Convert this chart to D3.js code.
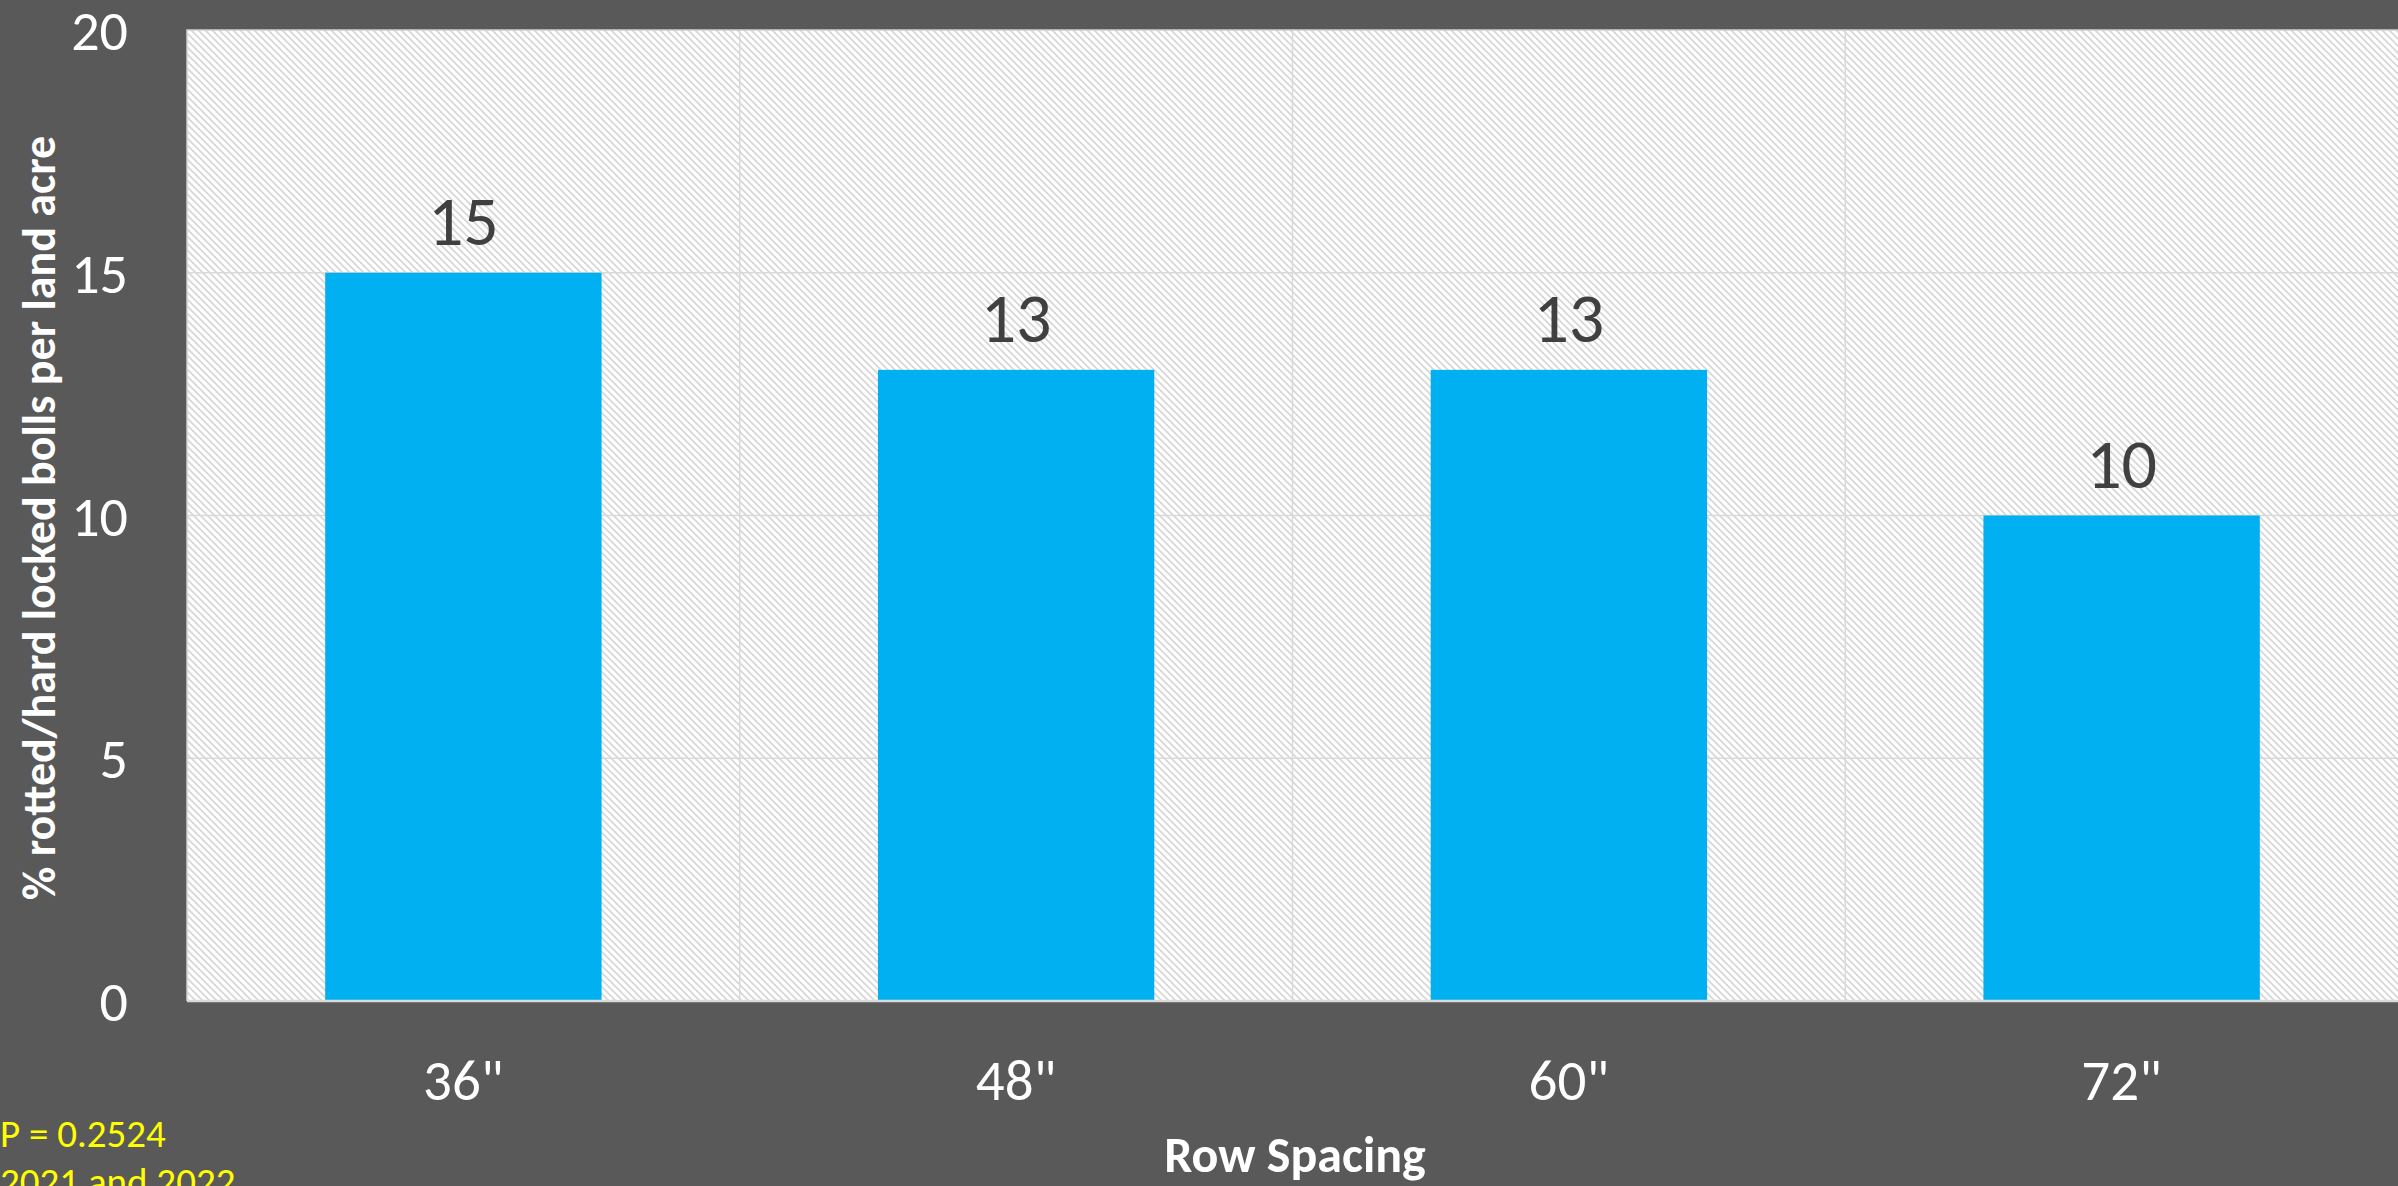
<!DOCTYPE html>
<html>
<head>
<meta charset="utf-8">
<script src="https://cdn.jsdelivr.net/npm/d3@7"></script>
<style>
  html, body { margin: 0; padding: 0; background: #595959; overflow: hidden; }
  svg { display: block; }
  text { font-family: Carlito, Calibri, Lato, sans-serif; }
</style>
</head>
<body>
<svg id="chart" width="2398" height="1186"></svg>
<script>
// ---- data ----
const categories = ['36"', '48"', '60"', '72"'];
const values = [15, 13, 13, 10];
const yTicks = [0, 5, 10, 15, 20];
const yTitle = "% rotted/hard locked bolls per land acre";
const xTitle = "Row Spacing";
const notes = ["P = 0.2524", "2021 and 2022"];

// ---- layout ----
const W = 2398, H = 1186;
const plotL = 187, plotR = 2398, plotT = 30, plotB = 1001;

const svg = d3.select("#chart");

svg.append("rect").attr("width", W).attr("height", H).attr("fill", "#595959");

// hatch pattern
const defs = svg.append("defs");
const pat = defs.append("pattern")
  .attr("id", "hatch")
  .attr("patternUnits", "userSpaceOnUse")
  .attr("width", 7).attr("height", 7);
pat.append("rect").attr("width", 7).attr("height", 7).attr("fill", "#ffffff");
pat.append("path")
  .attr("d", "M-1,-1 L8,8 M-1,6 L1,8 M6,-1 L8,1")
  .attr("stroke", "#d6d6d6")
  .attr("stroke-width", 1.6);

const x = d3.scaleBand().domain(categories).range([plotL, plotR]).padding(0);
const y = d3.scaleLinear().domain([0, 20]).range([plotB, plotT]);

// plot area
svg.append("rect")
  .attr("x", plotL).attr("y", plotT)
  .attr("width", plotR - plotL).attr("height", plotB - plotT)
  .attr("fill", "url(#hatch)");

// horizontal gridlines
svg.append("g").selectAll("line")
  .data(yTicks.filter(d => d > 0 && d < 20))
  .join("line")
  .attr("x1", plotL).attr("x2", plotR)
  .attr("y1", d => y(d)).attr("y2", d => y(d))
  .attr("stroke", "#d9d9d9").attr("stroke-width", 1.5);

// vertical gridlines at category boundaries
svg.append("g").selectAll("line")
  .data(categories.slice(1))
  .join("line")
  .attr("x1", d => x(d)).attr("x2", d => x(d))
  .attr("y1", plotT).attr("y2", plotB)
  .attr("stroke", "#d9d9d9").attr("stroke-width", 1.5);

// border (top, left)
svg.append("path")
  .attr("d", `M${plotL},${plotB} V${plotT} H${plotR}`)
  .attr("fill", "none").attr("stroke", "#cfcfcf").attr("stroke-width", 1.5);

// bars
const barW = x.bandwidth() * 0.5;
svg.append("g").selectAll("rect")
  .data(values)
  .join("rect")
  .attr("x", (d, i) => x(categories[i]) + x.bandwidth() / 2 - barW / 2)
  .attr("y", d => y(d))
  .attr("width", barW)
  .attr("height", d => y(0) - y(d))
  .attr("fill", "#00b0f0");

// baseline
svg.append("line")
  .attr("x1", plotL).attr("x2", plotR)
  .attr("y1", y(0)).attr("y2", y(0))
  .attr("stroke", "#d9d9d9").attr("stroke-width", 2.5);

// bar labels
svg.append("g").selectAll("text")
  .data(values)
  .join("text")
  .attr("x", (d, i) => x(categories[i]) + x.bandwidth() / 2)
  .attr("y", d => y(d) - 28)
  .attr("text-anchor", "middle")
  .attr("font-size", 70)
  .attr("fill", "#404040")
  .text(d => d);

// y tick labels
svg.append("g").selectAll("text")
  .data(yTicks)
  .join("text")
  .attr("x", 128)
  .attr("y", d => y(d))
  .attr("dy", "0.36em")
  .attr("text-anchor", "end")
  .attr("font-size", 56)
  .attr("fill", "#ffffff")
  .text(d => d);

// x tick labels
svg.append("g").selectAll("text")
  .data(categories)
  .join("text")
  .attr("x", d => x(d) + x.bandwidth() / 2)
  .attr("y", 1100)
  .attr("text-anchor", "middle")
  .attr("font-size", 57)
  .attr("fill", "#ffffff")
  .text(d => d);

// axis titles
svg.append("text")
  .attr("x", 1295).attr("y", 1172)
  .attr("text-anchor", "middle")
  .attr("font-size", 50).attr("font-weight", "bold")
  .attr("fill", "#ffffff")
  .text(xTitle);

svg.append("text")
  .attr("transform", "translate(55,518) rotate(-90)")
  .attr("text-anchor", "middle")
  .attr("font-size", 46).attr("font-weight", "bold")
  .attr("fill", "#ffffff")
  .text(yTitle);

// notes
svg.append("g").selectAll("text")
  .data(notes)
  .join("text")
  .attr("x", 0)
  .attr("y", (d, i) => 1147 + i * 48)
  .attr("font-size", 39)
  .attr("fill", "#ffff00")
  .text(d => d);
</script>
</body>
</html>
